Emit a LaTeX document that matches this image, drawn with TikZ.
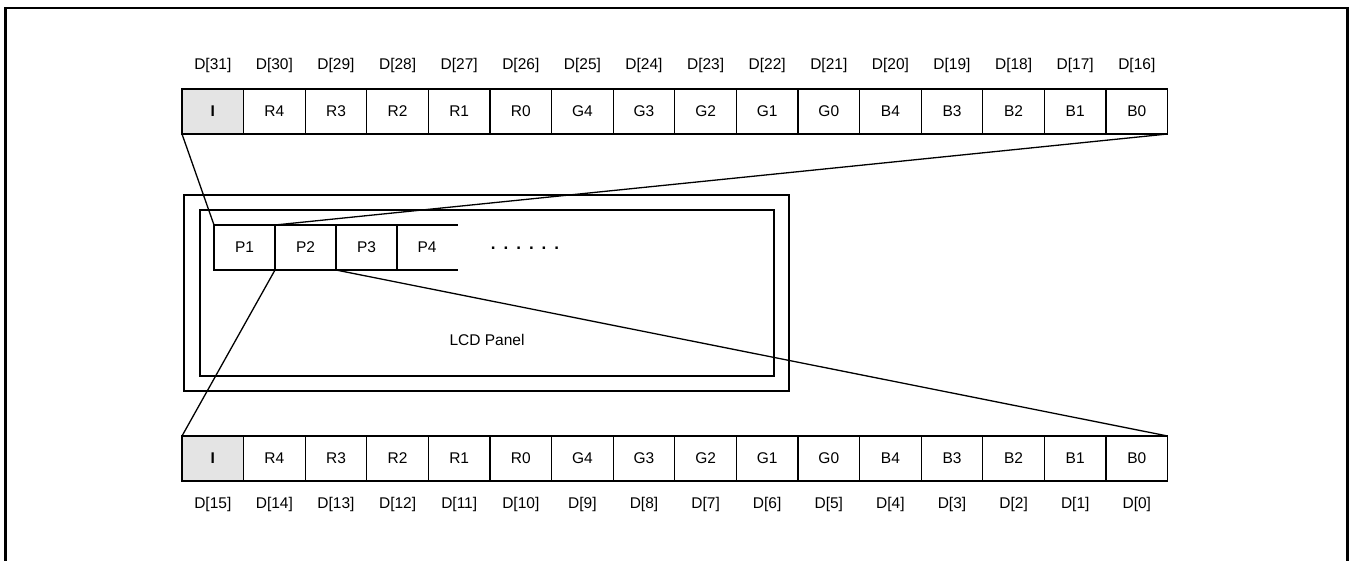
\documentclass[tikz,border=0pt]{standalone}
\usepackage{fontspec}
\setmainfont{Liberation Sans}
\definecolor{cellgray}{HTML}{E4E4E4}
\begin{document}
\begin{tikzpicture}[x=1pt,y=-1pt,
  cellbox/.style={draw,line width=1.3pt,minimum width=61.6pt,minimum height=45pt,inner sep=0pt,outer sep=0pt,font=\fontsize{15.5}{17}\selectfont},
  pbox/.style={cellbox,minimum width=61pt},
  bitlabel/.style={inner sep=0pt,font=\fontsize{15.5}{17}\selectfont},
  conn/.style={line width=1.3pt},
  panel/.style={draw,line width=1.5pt,inner sep=0pt,outer sep=0pt}]
\useasboundingbox (0,0) rectangle (1354,561);
% outer frame
\draw[line width=2.6pt] (5.5,561) -- (5.5,8) -- (1347.5,8) -- (1347.5,561);
% top and bottom rows
\foreach \t [count=\n from 0] in {I,R4,R3,R2,R1,R0,G4,G3,G2,G1,G0,B4,B3,B2,B1,B0} {
  \pgfmathsetmacro{\xx}{212.8+61.6*\n}
  \pgfmathtruncatemacro{\hi}{31-\n}
  \pgfmathtruncatemacro{\lo}{15-\n}
  \ifnum\n=0
    \node[cellbox,fill=cellgray] (t\n) at (\xx,111.5) {\textbf{\t}};
    \node[cellbox,fill=cellgray] (b\n) at (\xx,458.5) {\textbf{\t}};
  \else
    \node[cellbox] (t\n) at (\xx,111.5) {\t};
    \node[cellbox] (b\n) at (\xx,458.5) {\t};
  \fi
  \node[bitlabel] (tl\n) at (\xx,65) {D[\hi]};
  \node[bitlabel] (bl\n) at (\xx,504) {D[\lo]};
}
% LCD panel
\node[panel,minimum width=605pt,minimum height=196pt] (lcdo) at (486.5,293) {};
\node[panel,minimum width=574pt,minimum height=166pt] (lcdi) at (487,293) {};
\node[bitlabel] (lcdlabel) at (487,340) {LCD Panel};
\node[pbox] (p1) at (244.5,247.5) {P1};
\node[pbox] (p2) at (305.5,247.5) {P2};
\node[pbox] (p3) at (366.5,247.5) {P3};
\node[pbox,draw=none] (p4) at (427,247.5) {P4};
\draw[line width=1.3pt] (p4.north west) -- (p4.north east);
\draw[line width=1.3pt] (p4.south west) -- (p4.south east);
\node[bitlabel,font=\fontsize{17}{18}\selectfont\bfseries] (dots) at (525,248) {.\hskip8pt.\hskip8pt.\hskip8pt.\hskip8pt.\hskip8pt.};
% connectors
\draw[conn] (t0.south west) -- (p1.north west);
\draw[conn] (t15.south east) -- (p2.north west);
\draw[conn] (p2.south west) -- (b0.north west);
\draw[conn] (p3.south west) -- (b15.north east);
\end{tikzpicture}
\end{document}
